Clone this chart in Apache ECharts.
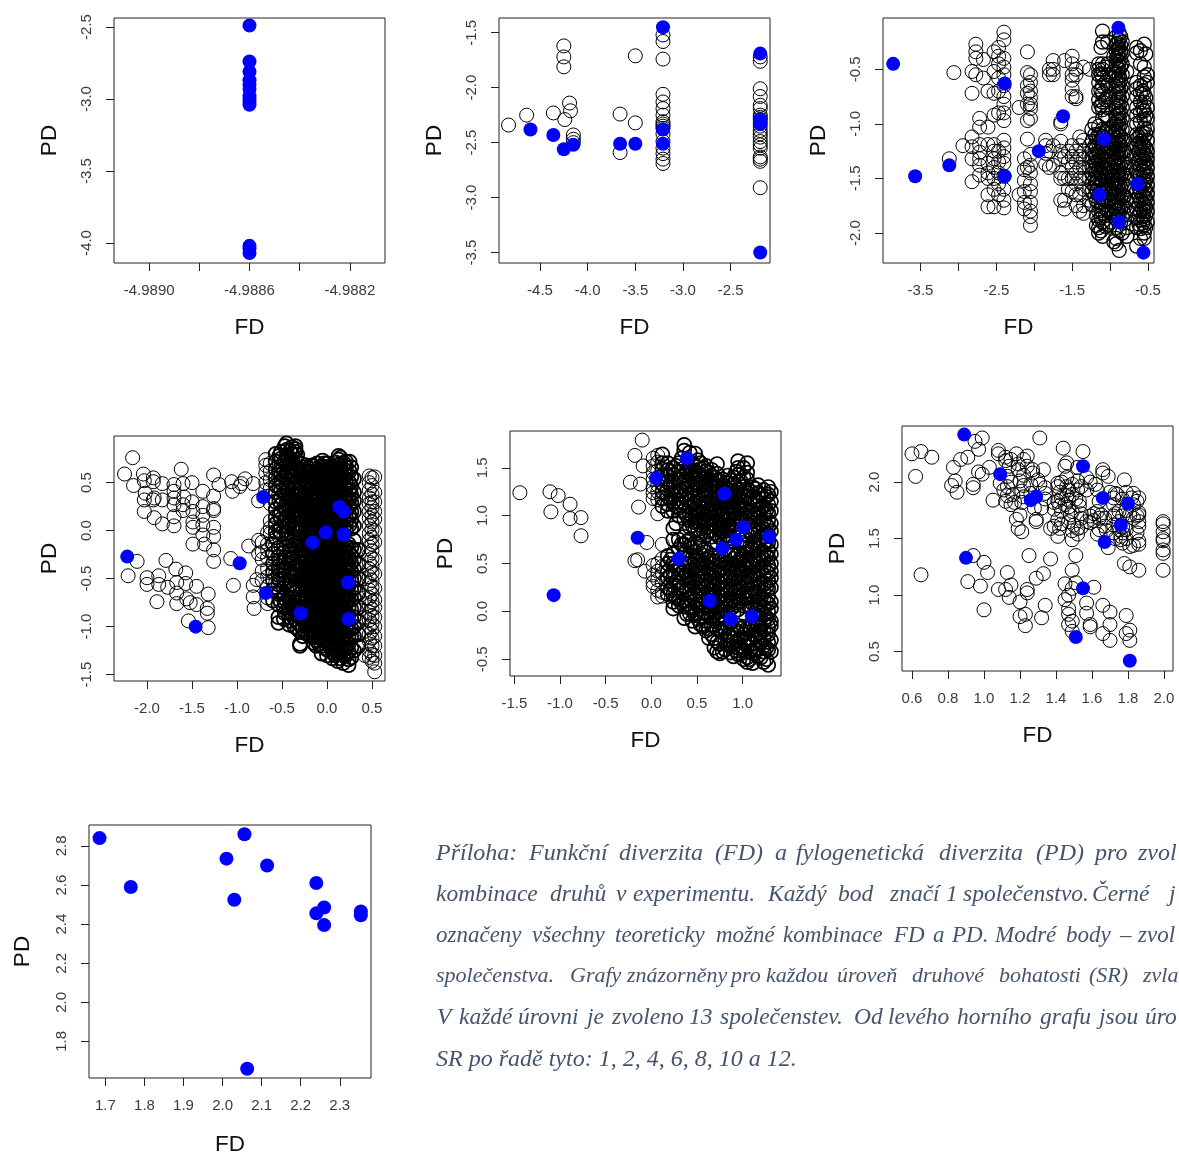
<!DOCTYPE html>
<html><head><meta charset="utf-8">
<style>html,body{margin:0;padding:0;background:#fff;overflow:hidden}#c{width:1179px;height:1157px}</style>
<script src="https://cdn.jsdelivr.net/npm/echarts@6/dist/echarts.min.js"></script>
</head><body><div id="c"></div>
<script>
// Rows are [FD, PD, PD, ...]: one FD level followed by the PD values read at that level.
const blue1 = [[-4.9886,-2.49,-2.74,-2.81,-2.87,-2.90,-2.93,-2.98,-3.0,-3.02,-3.04,-4.02,-4.04,-4.07]];
const black1 = [];
const blue2 = [[-4.6,-2.38],[-4.36,-2.43],[-4.25,-2.56],[-4.15,-2.52],[-3.66,-2.51],[-3.5,-2.51],[-3.21,-1.45,-2.38,-2.51],[-2.19,-1.69,-2.29,-2.33,-3.5]];
const black2 = [[-4.83,-2.34],[-4.64,-2.25],[-4.36,-2.23],[-4.24,-2.29],[-4.25,-1.62,-1.72,-1.81],[-4.19,-2.14],[-4.18,-2.21],[-4.15,-2.43,-2.47,-2.5],
[-3.66,-2.24,-2.59],[-3.5,-1.71,-2.32],
[-3.21,-1.52,-1.58,-1.74,-2.06,-2.13,-2.19,-2.25,-2.31,-2.33,-2.35,-2.37,-2.42,-2.49,-2.55,-2.6,-2.65,-2.69],
[-2.19,-1.72,-1.76,-2.01,-2.08,-2.16,-2.19,-2.25,-2.27,-2.29,-2.32,-2.35,-2.39,-2.42,-2.45,-2.49,-2.52,-2.55,-2.63,-2.65,-2.67,-2.91]];
const blue3 = [[-3.86,-.45],[-3.57,-1.48],[-3.12,-1.38],[-2.39,-.63,-1.48],[-1.94,-1.25],[-1.62,-.93],[-1.14,-1.65],[-1.08,-1.14],[-.89,-.12],[-.88,-1.9],[-.64,-1.55],[-.56,-2.18]];
const black3 = [[-3.06,-.53],[-3.12,-1.32],[-2.94,-1.2],
[-2.82,-.52,-.72,-1.12,-1.21,-1.32,-1.53],[-2.77,-.27,-.34,-.4,-.55],[-2.72,-.95,-1.03,-1.19,-1.26,-1.32,-1.38,-1.47],[-2.67,-.41,-.58],
[-2.61,-.7,-1.03,-1.19,-1.36,-1.45,-1.5,-1.65,-1.76],[-2.53,-.34,-.52,-.72,-.92,-1.19,-1.25,-1.32,-1.4,-1.5,-1.6,-1.76],
[-2.47,-.3,-.38,-.45,-.58,-.7,-.9,-1.25,-1.35,-1.45,-1.55,-1.65],
[-2.4,-.16,-.23,-.4,-.48,-.55,-.65,-.75,-.82,-.9,-.97,-1.15,-1.22,-1.3,-1.36,-1.48,-1.6,-1.7,-1.77],[-2.2,-.85,-1.65],
[-2.13,-1.32,-1.42,-1.52,-1.62,-1.72,-1.78],[-2.09,-.34,-.53,-.65,-.72,-.82,-.97,-1.14,-1.4],
[-2.05,-.55,-.62,-.7,-.76,-.82,-.86,-.95,-1.28,-1.38,-1.45,-1.55,-1.62,-1.72,-1.8,-1.85,-1.93],
[-1.85,-1.15,-1.2,-1.27,-1.37],[-1.8,-.5,-.55,-1.25,-1.4],[-1.75,-.42,-.5,-.55,-1.2,-1.38],[-1.65,-.98,-1.0,-1.16,-1.25,-1.32,-1.45,-1.5,-1.7],[-1.6,-.42,-1.3,-1.5,-1.7,-1.78],
[-1.55,-1.25,-1.35,-1.5,-1.6],[-1.5,-.38,-.45,-.55,-.6,-.68,-.75,-1.2,-1.3,-1.4,-1.5,-1.62],[-1.45,-.5,-.55,-.75,-.77,-1.25,-1.35,-1.45,-1.55,-1.65,-1.75],
[-1.4,-1.12,-1.2,-1.3,-1.4,-1.5,-1.65,-1.8],[-1.35,-.48,-1.15,-1.25,-1.32,-1.4,-1.5,-1.6,-1.75,-1.82],[-1.27,-.5,-1.2,-1.3,-1.4,-1.5,-1.6,-1.7]];
const black3Core = [
[-1.2,-1.0,-1.1,-1.2,-1.28,-1.35,-1.42,-1.5,-1.58,-1.66],
[-1.15,-.45,-.5,-.55,-.62,-.7,-.78,-.85,-1.02,-1.1,-1.18,-1.26,-1.34,-1.42,-1.5,-1.58,-1.65,-1.72,-1.8,-1.88,-1.95,-2.0],
[-1.1,-.15,-.25,-.45,-.5,-.58,-.65,-.72,-.8,-.87,-.95,-1.05,-1.12,-1.2,-1.27,-1.34,-1.4,-1.47,-1.54,-1.6,-1.68,-1.76,-1.82,-1.9,-2.03],
[-1.03,-.25,-.45,-.55,-.65,-.75,-.85,-.95,-1.05,-1.15,-1.22,-1.3,-1.37,-1.45,-1.52,-1.6,-1.7,-1.8,-1.93],
[-.92,-.2,-.27,-.33,-.4,-.47,-.53,-.6,-.66,-.73,-.8,-.86,-.93,-1.0,-1.07,-1.13,-1.2,-1.27,-1.33,-1.4,-1.47,-1.53,-1.6,-1.67,-1.73,-1.8,-1.87,-1.95,-2.05,-2.1],
[-.88,-.17,-.23,-.3,-.36,-.43,-.5,-.56,-.63,-.7,-.76,-.83,-.9,-.96,-1.03,-1.1,-1.16,-1.23,-1.3,-1.36,-1.43,-1.5,-1.56,-1.63,-1.7,-1.76,-1.83,-1.98,-2.16],
[-.84,-.25,-.35,-.45,-.55,-.65,-.75,-.85,-.95,-1.05,-1.15,-1.25,-1.35,-1.45,-1.55,-1.65,-1.75,-1.85,-2.0],
[-.78,-.52,-1.3,-1.4,-1.5,-1.6,-1.7,-1.8,-1.95,-2.03],
[-.65,-.3,-.35,-.62,-.68,-.75,-.85,-.92,-1.0,-1.1,-1.14,-1.2,-1.28,-1.36,-1.44,-1.62,-1.7,-1.78,-1.86,-1.95,-2.12],
[-.6,-.33,-.45,-.65,-.72,-.8,-.9,-.98,-1.1,-1.16,-1.22,-1.3,-1.38,-1.46,-1.54,-1.62,-1.7,-1.8,-1.88,-1.96,-2.05],
[-.55,-.27,-.48,-.57,-.64,-.72,-.8,-.88,-.96,-1.04,-1.12,-1.2,-1.27,-1.34,-1.4,-1.47,-1.54,-1.6,-1.67,-1.74,-1.8,-1.87,-1.93,-2.0,-2.05],
[-.51,-.55,-.62,-.85,-.95,-1.05,-1.15,-1.25,-1.32,-1.4,-1.48,-1.56,-1.64,-1.72,-1.8,-1.9],
[-1.24,-1.05,-1.16,-1.24,-1.31,-1.39,-1.46,-1.54,-1.62,-1.74],[-1.18,-1.13,-1.22,-1.3,-1.37,-1.44,-1.53,-1.61,-1.7,-1.84,-1.93],
[-1.12,-.3,-.54,-.69,-.83,-1.09,-1.16,-1.23,-1.31,-1.37,-1.44,-1.51,-1.57,-1.64,-1.72,-1.79,-1.86,-1.98],
[-1.06,-.48,-.62,-.78,-.92,-1.08,-1.17,-1.25,-1.33,-1.41,-1.49,-1.56,-1.63,-1.74,-1.84,-1.94],
[-.98,-1.08,-1.17,-1.24,-1.32,-1.4,-1.48,-1.55,-1.64,-1.72,-1.81,-1.9],[-.95,-.38,-.52,-1.0,-1.1,-1.18,-1.26,-1.35,-1.43,-1.51,-1.58,-1.66,-1.76,-1.84,-2.08],
[-.9,-.26,-.31,-.38,-.42,-.49,-.58,-.64,-.71,-.78,-.84,-.91,-.98,-1.05,-1.11,-1.18,-1.25,-1.31,-1.38,-1.45,-1.52,-1.58,-1.65,-1.72,-1.78,-1.85],
[-.86,-.2,-.28,-.34,-.41,-.48,-.6,-.68,-.8,-.9,-1.0,-1.12,-1.2,-1.28,-1.38,-1.48,-1.58,-1.68,-1.78,-1.9],
[-.81,-1.15,-1.25,-1.36,-1.46,-1.56,-1.66,-1.76,-1.88],
[-.62,-1.12,-1.18,-1.26,-1.33,-1.41,-1.49,-1.58,-1.66,-1.74,-1.83,-1.92],[-.57,-.7,-.86,-1.08,-1.18,-1.25,-1.31,-1.37,-1.43,-1.5,-1.57,-1.65,-1.72,-1.78,-1.85,-1.91],
[-.53,-.36,-.76,-.92,-1.09,-1.22,-1.29,-1.36,-1.44,-1.52,-1.6,-1.68,-1.76,-1.84,-1.95]];
const blue4 = [[-2.22,-.27],[-1.46,-1.0],[-.97,-.34],[-.71,.35],[-.68,-.65],[-.29,-.86],[-.16,-.125],[-.015,-.02],[.137,.247],[.185,.2,-.04],[.233,-.54],[.24,-.92]];
const black4 = [[-2.25,.59],[-2.16,.76],[-2.15,.47],[-2.04,.59],[-2.03,.52,.32,.2],[-2.02,.39],[-1.93,.55,.51,.32],[-1.92,.34,.135],[-1.83,.49,.32,.07],
[-1.7,.48,.41,.34,.27,.145,.05],[-1.62,.64],[-1.6,.49,.27,.21],[-1.59,.35],[-1.5,.5,.3],[-1.49,.2,.09,.035,-.14],[-1.38,.41,.25,.16,.06,-.045],[-1.36,-.14],
[-1.26,.58,.36,.23,.21,.035,-.06,-.2,-.32],[-1.2,.48],
[-2.11,-.32],[-2.21,-.47],[-1.79,-.31],[-2,-.49,-.56],[-1.87,-.47,-.56],[-1.89,-.74],[-1.77,-.59],[-1.68,-.4],[-1.67,-.54,-.65,-.76],[-1.57,-.44,-.55],[-1.56,-.71],[-1.52,-.75],[-1.45,-.58,-.77],[-1.54,-.94],[-1.32,-.66,-1.01],[-1.33,-.81,-.86],
[-1.06,.51],[-1.05,.41],[-.95,.49],[-.97,.46],[-.91,.54],[-.82,.49,-.57,-.69],[-.76,.31,-.1,-.24],[-1.07,-.29],[-1.04,-.57],[-.87,-.16],[-.81,-.81],[-.78,-.51],
[-.72,-.12,-.22,-.3,-.42,-.52],[-.68,.74,.68,.6,.5,.42],[-.66,-.02,-.14,-.2,-.28,-.4,-.48,-.58,-.7,-.76],[-.63,.7,.62,.53,.44,.36,.28,.1,.03,-.03],
[.47,.57,.5,.42,.34,.28,.2,.13,.05,-.03,-.1,-.17,-.25,-.33,-.4,-.48,-.55,-.62,-.7,-.78,-.85,-.93,-1,-1.08,-1.15,-1.25,-1.32],
[.5,.55,.47,.38,.3,.24,.16,.09,.01,-.07,-.14,-.21,-.29,-.37,-.44,-.52,-.59,-.66,-.74,-.82,-.89,-.97,-1.04,-1.12,-1.2,-1.29,-1.36],
[.53,.56,.4,.3,.2,.12,0,-.12,-.3,-.45,-.6,-.72,-.8,-.9,-1,-1.1,-1.2,-1.3,-1.38,-1.47],[.42,-.5,-.7,-.9,-1.05,-1.3]];
const black4Core = [[-.6,-.14,-.24,-.34,-.43,-.52,-.62,-.73],
[-.57,.8,.72,.64,.55,.47,.4,.3,.22,.14,.07,-.01,-.07],[-.54,-.18,-.27,-.37,-.46,-.56,-.66,-.77,-.9,-.96],
[-.51,.82,.75,.66,.58,.5,.42,.35,.27,.19,.12,.04,-.03],[-.48,-.14,-.23,-.33,-.42,-.5,-.6,-.7,-.8,-.92],
[-.45,.91,.84,.77,.68,.6,.53,.45,.37,.29,.21,.13,.05,-.03,-.08],[-.42,-.16,-.25,-.34,-.43,-.52,-.6,-.7,-.8,-.9,-.98],
[-.39,.87,.8,.7,.62,.56,.48,.41,.33,.26,.18,.1,.02,-.05],[-.36,-.08,-.16,-.24,-.32,-.4,-.48,-.57,-.65,-.74,-.82,-.92,-1.0],
[-.35,.88,.85,.82,.74,.66,.58,.5,.44,.36,.28,.22,.14,.06,-.02],
[-.3,-.1,-.18,-.26,-.34,-.42,-.5,-.58,-.66,-.74,-.82,-.9,-.98,-1.05,-1.18,-1.2],
[-.29,.7,.62,.56,.5,.43,.38,.31,.25,.19,.13,.07,0],
[-.24,-.08,-.14,-.21,-.27,-.33,-.39,-.45,-.51,-.57,-.63,-.69,-.75,-.81,-.87,-.93,-.99,-1.05],
[-.23,.68,.62,.56,.49,.44,.37,.32,.26,.2,.14,.08,.02,-.02],
[-.18,-.07,-.13,-.19,-.25,-.31,-.38,-.44,-.5,-.56,-.62,-.68,-.74,-.8,-.86,-.92,-.98,-1.04,-1.1],
[-.17,.68,.61,.55,.5,.44,.39,.33,.27,.21,.15,.1,.04],
[-.12,-.06,-.12,-.18,-.24,-.3,-.36,-.42,-.48,-.54,-.6,-.66,-.72,-.78,-.84,-.9,-.96,-1.02,-1.08,-1.14,-1.2],
[-.11,.7,.64,.58,.52,.47,.41,.35,.3,.24,.18,.12,.07,.01],
[-.06,-.05,-.11,-.17,-.23,-.29,-.35,-.41,-.47,-.53,-.59,-.65,-.71,-.77,-.83,-.89,-.95,-1.01,-1.07,-1.13,-1.2,-1.28],
[-.05,.73,.67,.61,.55,.5,.44,.38,.33,.27,.21,.15,.09,.03,-.03],
[0,-.07,-.13,-.2,-.26,-.32,-.38,-.44,-.5,-.56,-.62,-.68,-.74,-.8,-.86,-.92,-.98,-1.04,-1.1,-1.16,-1.24,-1.3],
[.01,.7,.64,.58,.52,.46,.41,.35,.29,.23,.18,.12,.06],
[.06,-.08,-.15,-.22,-.28,-.34,-.4,-.46,-.52,-.58,-.64,-.7,-.76,-.82,-.88,-.94,-1,-1.06,-1.12,-1.18,-1.26,-1.33],
[.07,.66,.6,.54,.48,.43,.37,.31,.25,.19,.13,.07,.01],
[.12,-.1,-.17,-.24,-.3,-.36,-.42,-.48,-.54,-.6,-.66,-.72,-.78,-.84,-.9,-.96,-1.02,-1.08,-1.14,-1.2,-1.28,-1.36],
[.13,.78,.74,.68,.62,.56,.5,.44,.38,.33,.27,.21,.15,.09,.03],
[.18,-.12,-.19,-.26,-.32,-.38,-.45,-.5,-.57,-.63,-.69,-.75,-.81,-.87,-.93,-.99,-1.05,-1.11,-1.17,-1.23,-1.3,-1.38],
[.19,.7,.63,.55,.48,.4,.33,.26,.18,.11,.04],
[.24,-.14,-.22,-.3,-.36,-.44,-.5,-.58,-.66,-.72,-.8,-.88,-.96,-1.04,-1.1,-1.18,-1.26,-1.34,-1.4],
[.25,.72,.62,.5,.42,.33,.25,.16,.06],
[.3,.54,.4,.31,.2,.05,-.1,-.2,-.3,-.4,-.5,-.6,-.7,-.8,-.9,-1,-1.1,-1.25],
[.35,-.2,-.35,-.5,-.65,-.8,-.95,-1.08,-1.2],
[-.53,.78,.61,.45,.31,.16,0,-.31,-.41,-.51,-.63,-.72],[-.47,.88,.72,.56,.39,.24,.09,-.28,-.39,-.55,-.66,-.75,-.86],
[-.41,.83,.66,.51,.35,.23,.07,-.2,-.3,-.47,-.56,-.76,-.85,-.94],[-.38,.72,.59,.45,.3,.15,-.11,-.28,-.44,-.61,-.78,-.87],
[-.33,.79,.64,.53,.41,.27,.16,.03,-.13,-.21,-.36,-.46,-.61,-.7,-.78,-.95,-1.02],
[-.27,.66,.59,.46,.34,.22,.1,.04,-.06,-.15,-.29,-.38,-.46,-.54,-.62,-.7,-.85,-.93,-1.02,-1.1],
[-.21,.65,.59,.52,.46,.41,.29,.23,.17,.11,.05,-.05,-.16,-.22,-.28,-.35,-.41,-.47,-.53,-.59,-.71,-.77,-.83,-.95,-1.07],
[-.15,.67,.58,.47,.38,.3,.24,.18,.12,.06,0,-.09,-.15,-.21,-.27,-.33,-.39,-.45,-.51,-.57,-.63,-.69,-.75,-.81,-.87,-.93,-.99,-1.05,-1.11,-1.17],
[-.09,.66,.6,.54,.44,.38,.32,.27,.21,.15,.09,.04,-.03,-.08,-.14,-.2,-.26,-.32,-.38,-.44,-.5,-.56,-.62,-.68,-.74,-.8,-.86,-.92,-.98,-1.04,-1.1,-1.18],
[-.03,.7,.63,.58,.52,.47,.41,.35,.3,.24,.18,.12,.06,.0,-.1,-.15,-.21,-.27,-.33,-.39,-.45,-.51,-.57,-.63,-.69,-.75,-.81,-.87,-.93,-.99,-1.05,-1.11,-1.22],
[.03,.67,.61,.55,.49,.43,.38,.32,.26,.2,.15,.09,.03,-.1,-.16,-.23,-.29,-.35,-.41,-.47,-.53,-.59,-.65,-.71,-.77,-.83,-.89,-.95,-1.01,-1.07,-1.13,-1.2],
[.09,.71,.63,.57,.51,.45,.4,.34,.28,.22,.16,.1,.04,-.12,-.19,-.26,-.32,-.38,-.44,-.5,-.56,-.62,-.68,-.74,-.8,-.86,-.92,-.98,-1.04,-1.1,-1.16,-1.24,-1.3],
[.15,.76,.7,.65,.59,.53,.47,.41,.3,.24,.18,.12,.06,0,-.14,-.21,-.28,-.34,-.4,-.47,-.52,-.59,-.65,-.71,-.77,-.83,-.89,-.95,-1.01,-1.07,-1.13,-1.19,-1.26,-1.33],
[.21,.72,.66,.58,.51,.44,.36,.29,.22,.14,.07,.01,-.16,-.23,-.3,-.36,-.42,-.48,-.56,-.62,-.68,-.76,-.84,-.92,-1,-1.08,-1.14,-1.22,-1.3],
[.27,.66,.56,.46,.37,.29,.2,.11,.02,-.18,-.26,-.34,-.42,-.52,-.62,-.72,-.82,-.92,-1.02,-1.12,-1.22,-1.32]];
const blue5 = [[-1.07,.17],[-.15,.77],[.05,1.39],[.39,1.6],[.3,.55],[.8,1.23],[.78,.66],[.93,.75],[1.01,.88],[1.29,.78],[.64,.11],[.87,-.08],[1.1,-.05]];
const black5 = [[-1.44,1.24],[-1.11,1.25],[-1.02,1.21],[-1.1,1.04],[-.89,1.12,.97],[-.77,.98,.79],
[-.1,1.79],[-.18,1.63,.53],[-.09,1.52],[-.23,1.35],[-.12,1.33],[-.14,1.09],[-.05,.72],[-.15,.54],[-.07,.42],
[.02,1.6,1.52,1.45,1.38,1.3,1.24,1.18,.48,.38,.3,.26],[.07,1.63,1.56,1.47,1.4,1.32,1.25,1.17,1.02,.5,.42,.33,.22,.15],[.12,.7,.55,.47,.4,.3,.2,.16]];
const black5Core = [[.12,1.64,1.55,1.48,1.41,1.33,1.25,1.18,1.1],[.18,1.55,1.48,1.42,1.35,1.28,1.2,1.12,1.05,.58,.5,.42,.35,.25,.18],
[.24,1.5,1.43,1.36,1.3,1.22,1.14,1.05,.87,.75,.6,.5,.42,.35,.27,.18,.1,.03],[.3,1.55,1.46,1.38,1.3,1.22,1.15,1.08,1,.75,.65,.45,.38,.3,.22,.14,.06],
[.36,1.74,1.68,1.5,1.42,1.36,1.28,1.2,1.13,1.05,.97,.78,.7,.6,.5,.42,.35,.27,.2,.12,.05,-.07],
[.42,1.66,1.5,1.43,1.36,1.3,1.23,1.16,1.1,1.02,.95,.88,.75,.68,.58,.5,.42,.35,.28,.2,.13,.05,-.02],
[.48,1.65,1.52,1.46,1.4,1.33,1.27,1.2,1.14,1.07,1,.93,.85,.72,.62,.53,.46,.39,.32,.25,.18,.11,.04,-.04,-.16],
[.54,1.55,1.49,1.42,1.36,1.3,1.23,1.17,1.1,1.04,.97,.9,.8,.68,.6,.52,.45,.38,.31,.24,.17,.1,.03,-.05,-.14],
[.6,1.52,1.46,1.4,1.33,1.27,1.21,1.14,1.08,1.01,.95,.88,.8,.62,.54,.47,.4,.33,.26,.19,.12,.05,-.02,-.1,-.2],
[.66,1.48,1.42,1.36,1.3,1.24,1.17,1.11,1.05,.98,.92,.85,.78,.58,.5,.43,.36,.29,.22,.15,.08,.01,-.06,-.14,-.24],
[.72,1.54,1.44,1.37,1.31,1.25,1.19,1.13,1.06,1,.94,.87,.8,.72,.56,.48,.41,.34,.27,.2,.13,.06,-.01,-.09,-.18,-.32,-.42],
[.78,1.38,1.32,1.26,1.2,1.14,1.08,1.02,.96,.9,.83,.76,.52,.45,.38,.31,.24,.17,.1,.03,-.04,-.12,-.22,-.42],
[.84,1.42,1.34,1.27,1.21,1.15,1.09,1.03,.97,.91,.85,.79,.72,.6,.48,.41,.34,.27,.2,.13,.06,-.01,-.15,-.25,-.35],
[.9,1.4,1.33,1.26,1.2,1.14,1.08,1.02,.96,.9,.84,.63,.55,.47,.4,.33,.26,.19,.12,.05,-.02,-.18,-.28,-.37,-.47],
[.95,1.57,1.5,1.43,1.35,1.27,1.2,1.13,1.07,1,.94,.6,.52,.44,.37,.3,.23,.16,.09,.02,-.15,-.23,-.3,-.38,-.45],
[1.01,1.5,1.4,1.3,1.22,1.15,1.08,1.01,.75,.66,.58,.5,.42,.34,.27,.2,.13,.06,-.16,-.24,-.32,-.4,-.5],
[1.05,1.55,1.45,1.38,1.28,1.2,1.12,1.04,.97,.8,.7,.62,.54,.46,.38,.3,.22,.14,.07,-.18,-.28,-.36,-.48,-.53],
[1.11,1.3,1.2,1.12,1.04,.96,.88,.8,.72,.64,.56,.48,.4,.32,.24,.16,.08,-.14,-.24,-.34,-.44,-.54],
[1.17,1.32,1.24,1.14,1.06,.98,.9,.82,.74,.66,.58,.5,.42,.34,.26,.18,.1,.02,-.06,-.14,-.22,-.3,-.38,-.46],
[1.23,1.27,1.18,1.1,1.02,.94,.86,.78,.7,.62,.54,.46,.38,.28,.2,.12,.04,-.04,-.12,-.2,-.28,-.36,-.42,-.53],
[1.28,1.3,1.22,1.12,1.03,.95,.88,.8,.72,.64,.56,.48,.4,.32,.24,.16,.08,0,-.08,-.16,-.24,-.32,-.4,-.56],
[1.31,1.25,1.15,1.05,.92,.84,.7,.6,.5,.42,.35,.25,.1,.03,-.1,-.15,-.3,-.42],
[.21,1.46,1.32,1.16,.54,.38,.22],[.27,1.52,1.39,1.26,1.1,.92,.48,.31,.14],[.33,1.6,1.41,1.26,1.11,.7,.4,.24,.09],[.39,1.46,1.32,1.17,1.0,.73,.55,.38,.23,.08,-.03],
[.45,1.55,1.47,1.38,1.25,1.12,.98,.9,.66,.56,.44,.3,.15,.01,-.1],[.51,1.58,1.44,1.33,1.2,1.05,.94,.86,.7,.57,.48,.35,.21,.07,-.08],
[.57,1.5,1.39,1.26,1.13,1.02,.92,.84,.64,.5,.41,.27,.14,-.01,-.16],[.63,1.45,1.34,1.2,1.06,.96,.83,.56,.45,.31,.18,.05,-.04,-.18,-.28],
[.69,1.4,1.29,1.16,1.03,.9,.82,.52,.4,.25,.1,-.04,-.15,-.28,-.38],[.75,1.36,1.22,1.09,.98,.86,.77,.54,.43,.29,.15,0,-.08,-.2,-.34,-.44],
[.81,1.3,1.17,1.05,.94,.8,.5,.36,.22,.08,-.06,-.18,-.3,-.4],[.87,1.37,1.24,1.11,1,.88,.76,.62,.5,.37,.23,.1,-.12,-.26,-.36,-.43],
[.93,1.46,1.3,1.17,1.04,.92,.58,.46,.35,.21,.07,-.2,-.32,-.41],[.98,1.36,1.24,1.1,.97,.72,.55,.4,.24,.11,-.18,-.28,-.44],
[1.08,1.26,1.14,1.0,.84,.68,.52,.36,.18,.04,-.17,-.3,-.42,-.5],[1.14,1.28,1.16,1.02,.86,.7,.54,.38,.2,.06,-.12,-.26,-.4],
[1.2,1.22,1.08,.92,.76,.6,.44,.3,.14,0,-.16,-.32,-.48],[1.26,1.2,1.06,.9,.74,.58,.42,.26,.1,-.06,-.22,-.38,-.5]];
const blue6 = [[.89,2.42],[.9,1.33],[1.09,2.07],[1.26,1.84],[1.29,1.87],[1.55,2.14,1.06],[1.66,1.86],[1.8,1.81],[1.76,1.62],[1.67,1.47],[1.51,.63],[1.81,.42]];
const black6 = [[.6,2.25],[.65,2.27,1.18],[.71,2.22],[.62,2.05],[.83,2.13],[.87,2.2],[.91,2.22,1.12],[.95,2.36],[.97,2.29,2.09],[.99,2.39,2.07],[.82,1.97],[.84,2.01],[.85,1.91],[.94,1.98,1.95,1.35],[1.03,2.13],[1.08,2.28,2.25,1.05],[1.05,1.84],
[1.12,2.22,2.19,1.83,1.05],[1.14,2.14,.98],[1.18,2.25,1.67],[1.19,2.16,2.11,1.59],[1.24,2.23,2.14,1.05,1.02],[1.09,1.99],[1.11,1.93],[1.16,1.89],[1.17,1.82],[1.2,2.01,1.71,.94,.81],[1.21,1.92,1.82,1.56],
[1.27,2.11,2.08],[1.33,2.11,1.19],[1.3,2.02],[1.31,1.98,2.39],[1.28,1.77],[1.32,1.77,.8],[1.29,1.65,1.67,1.15],[1.37,1.59,1.32],[1.41,1.52,1.99,1.96,1.83,1.67],[1.42,1.91,1.79,1.59],[1.44,2.3],[1.45,2.14,1.8,1.1,.96],[1.46,2.17,2.04,1.96,1.88],[1.48,1.71],[1.49,1.49,1.22,1.06,.77,.68],[1.52,1.59,2.01,1.93,2.13,1.54],[1.5,1.62],[1.51,1.85,1.35,1.11],[1.53,1.83,1.79],[1.55,2.27],[1.57,2.04,1.93,1.65,.93,.84],[1.62,1.98],[1.63,1.93,1.74,1.54],[1.65,1.71],[1.66,2.11,2.08,.91,.66],[1.69,2.05,1.42],[1.7,1.91,.85,.74,.6],[1.67,1.68,1.61],[1.68,1.57],
[1.74,1.89],[1.75,1.74,1.65,1.58],[1.76,1.52,1.49],[1.78,2.02,1.28],[1.79,1.91,.82,.66],[1.81,1.71,1.43,1.25,.69,.6],[1.82,1.86],[1.86,1.22,1.86,1.73,1.71,1.65,1.61,1.48,1.45],
[1.995,1.65,1.63,1.56,1.5,1.48,1.4,1.37,1.22],[1,1.29,.87],[.98,1.08],[1.02,1.2],[1.13,1.2],[1.15,1.09],[1.25,1.35],[1.34,.91],[1.23,.83,.73],[1.47,.88,.83,.74,1.0],[1.59,.74,.72],[1.61,1.07],[1.72,1.86,1.7,1.55],
[1.13,2.05,1.96,1.88],[1.15,2.2,2.0,1.8],[1.22,2.2,2.06,1.97,1.87],[1.26,1.98,1.9],[1.34,1.85,1.9,1.95],[1.39,1.82,1.76,1.61],[1.43,2.0,1.86,1.74,1.63],[1.47,1.93,1.84,1.78,1.65],[1.49,1.98,1.89,1.74,1.57],[1.54,1.96,1.72,1.68,1.6],[1.59,2.0,1.7,1.64],[1.61,1.72,1.66],[1.64,1.83,1.68,1.58],[1.72,1.8,1.62],[1.73,1.9,1.72,1.5],[1.77,1.85,1.7,1.6,1.55,1.46],[1.79,1.75,1.58,1.5],[1.83,1.9,1.8,1.68,1.44],[1.85,1.83,1.7,1.55]];
const blue7 = [[1.685,2.84],[1.765,2.59],[2.01,2.735],[2.03,2.525],[2.056,2.86],[2.063,1.66],[2.114,2.7],[2.24,2.61,2.455],[2.26,2.485,2.395],[2.354,2.465,2.445]];
const black7 = [];
const none = [];

const xTicks1=[-4.989,-4.9888,-4.9886,-4.9884,-4.9882], xLabels1=[-4.989,-4.9886,-4.9882];
const yTicks1=[-2.5,-3,-3.5,-4];
const xTicks2=[-4.5,-4,-3.5,-3,-2.5], yTicks2=[-1.5,-2,-2.5,-3,-3.5];
const xTicks3=[-3.5,-3,-2.5,-2,-1.5,-1,-.5], xLabels3=[-3.5,-2.5,-1.5,-.5], yTicks3=[-.5,-1,-1.5,-2];
const xTicks4=[-2,-1.5,-1,-.5,0,.5], yTicks4=[.5,0,-.5,-1,-1.5];
const xTicks5=[-1.5,-1,-.5,0,.5,1], yTicks5=[1.5,1,.5,0,-.5];
const xTicks6=[.6,.8,1,1.2,1.4,1.6,1.8,2], yTicks6=[2,1.5,1,.5];
const xTicks7=[1.7,1.8,1.9,2,2.1,2.2,2.3], yTicks7=[1.8,2,2.2,2.4,2.6,2.8];

const captionWords=[
 [852,24,[[436,"Příloha:"],[529,"Funkční"],[619,"diverzita"],[715,"(FD)"],[775,"a"],[796,"fylogenetická"],[939,"diverzita"],[1036,"(PD)"],[1095,"pro"],[1138,"zvol"]]],
 [893,23.5,[[436,"kombinace"],[550,"druhů"],[616,"v"],[633,"experimentu."],[768,"Každý"],[838,"bod"],[890,"značí"],[946,"1"],[963,"společenstvo."],[1092,"Černé"],[1169,"j"]]],
 [934,23,[[436,"označeny"],[532,"všechny"],[615,"teoreticky"],[716,"možné"],[783,"kombinace"],[894,"FD"],[933,"a"],[952,"PD."],[995,"Modré"],[1066,"body"],[1120,"–"],[1138,"zvol"]]],
 [975,22,[[436,"společenstva."],[570,"Grafy"],[627,"znázorněny"],[731,"pro"],[766,"každou"],[837,"úroveň"],[912,"druhové"],[999,"bohatosti"],[1089,"(SR)"],[1143,"zvla"]]],
 [1016,23.5,[[437,"V"],[459,"každé"],[518,"úrovni"],[587,"je"],[612,"zvoleno"],[689,"13"],[720,"společenstev."],[854,"Od"],[888,"levého"],[957,"horního"],[1040,"grafu"],[1099,"jsou"],[1145,"úro"]]],
 [1058,24,[[436,"SR po řadě tyto: 1, 2, 4, 6, 8, 10 a 12."]]]
];

const panels=[
 {box:[114,18,271,245],x:[-4.98914,-4.98806],y:[-4.139,-2.4375],xt:xTicks1,xl:xLabels1,yt:yTicks1,dx:4,dy:1,gap:0,black:black1,core:none,coreW:1,blue:blue1},
 {box:[499,18,271,245],x:[-4.93,-2.0876],y:[-3.595,-1.366],xt:xTicks2,xl:xTicks2,yt:yTicks2,dx:1,dy:1,gap:0,black:black2,core:none,coreW:1,blue:blue2},
 {box:[883,18,271,245],x:[-3.994,-.421],y:[-2.275,-.03],xt:xTicks3,xl:xLabels3,yt:yTicks3,dx:1,dy:1,gap:0,black:black3,core:black3Core,coreW:1.3,blue:blue3},
 {box:[114,436,271,245],x:[-2.367,.6446],y:[-1.566,.986],xt:xTicks4,xl:xTicks4,yt:yTicks4,dx:1,dy:1,gap:0,black:black4,core:black4Core,coreW:1.8,blue:blue4},
 {box:[510,431,271,245],x:[-1.548,1.42],y:[-.675,1.885],xt:xTicks5,xl:xTicks5,yt:yTicks5,dx:1,dy:1,gap:0,black:black5,core:black5Core,coreW:1.7,blue:blue5},
 {box:[902,426,271,245],x:[.5444,2.05],y:[.329,2.496],xt:xTicks6,xl:xTicks6,yt:yTicks6,dx:1,dy:1,gap:0,black:black6,core:none,coreW:1,blue:blue6},
 {box:[89,825,282,254],x:[1.658,2.38],y:[1.613,2.907],xt:xTicks7,xl:xTicks7,yt:yTicks7,dx:1,dy:1,gap:2,black:black7,core:none,coreW:1,blue:blue7}
];

const flat=rows=>rows.flatMap(r=>r.slice(1).map(v=>[r[0],v]));
const option={animation:false,backgroundColor:'#fff',grid:[],xAxis:[],yAxis:[],series:[],graphic:[]};
const tickColor='#222', labelColor='#3a3a3a', labelFont='"Liberation Sans",Arial,sans-serif';
const ring=(i,rows,width)=>({type:'scatter',xAxisIndex:i,yAxisIndex:i,name:'all',data:flat(rows),symbol:'circle',symbolSize:14,silent:true,
  itemStyle:{color:'rgba(0,0,0,0)',borderColor:'#000',borderWidth:width,opacity:1}});
panels.forEach((p,i)=>{
 const [l,t,w,h]=p.box;
 option.grid.push({left:l,top:t,width:w,height:h,show:true,backgroundColor:'transparent',borderColor:'#222',borderWidth:1,containLabel:false});
 option.xAxis.push({type:'value',gridIndex:i,position:'bottom',min:p.x[0],max:p.x[1],splitLine:{show:false},
  axisLine:{show:false,onZero:false},axisTick:{show:true,length:8,inside:false,customValues:p.xt,lineStyle:{color:tickColor,width:1}},
  axisLabel:{customValues:p.xl,margin:20,color:labelColor,fontSize:15,fontFamily:labelFont,hideOverlap:false,showMinLabel:true,showMaxLabel:true,formatter:v=>(+v).toFixed(p.dx)},
  name:'FD',nameLocation:'middle',nameGap:53+p.gap,nameTextStyle:{fontSize:22.5,color:'#111',fontFamily:labelFont}});
 option.yAxis.push({type:'value',gridIndex:i,position:'left',min:p.y[0],max:p.y[1],splitLine:{show:false},
  axisLine:{show:false,onZero:false},axisTick:{show:true,length:8,inside:false,customValues:p.yt,lineStyle:{color:tickColor,width:1}},
  axisLabel:{customValues:p.yt,margin:20,rotate:90,color:labelColor,fontSize:15,fontFamily:labelFont,hideOverlap:false,showMinLabel:true,showMaxLabel:true,formatter:v=>(+v).toFixed(p.dy)},
  name:'PD',nameLocation:'middle',nameGap:53+p.gap,nameRotate:90,nameTextStyle:{fontSize:22.5,color:'#111',fontFamily:labelFont}});
 if(p.black.length) option.series.push(ring(i,p.black,1));
 if(p.core.length) option.series.push(ring(i,p.core,p.coreW));
 option.series.push({type:'scatter',xAxisIndex:i,yAxisIndex:i,name:'selected',data:flat(p.blue),symbol:'circle',symbolSize:14,silent:true,z:5,itemStyle:{color:'#0000ff',opacity:1}});
});
captionWords.forEach(([y,size,words])=>words.forEach(([x,w])=>option.graphic.push({type:'text',left:x,top:y-10,silent:true,
 style:{text:w,fill:'#44546a',fontFamily:'"Liberation Serif","Times New Roman",serif',fontStyle:'italic',fontSize:size,textAlign:'left'}})));
echarts.init(document.getElementById('c'),null,{renderer:'canvas'}).setOption(option);
</script></body></html>
